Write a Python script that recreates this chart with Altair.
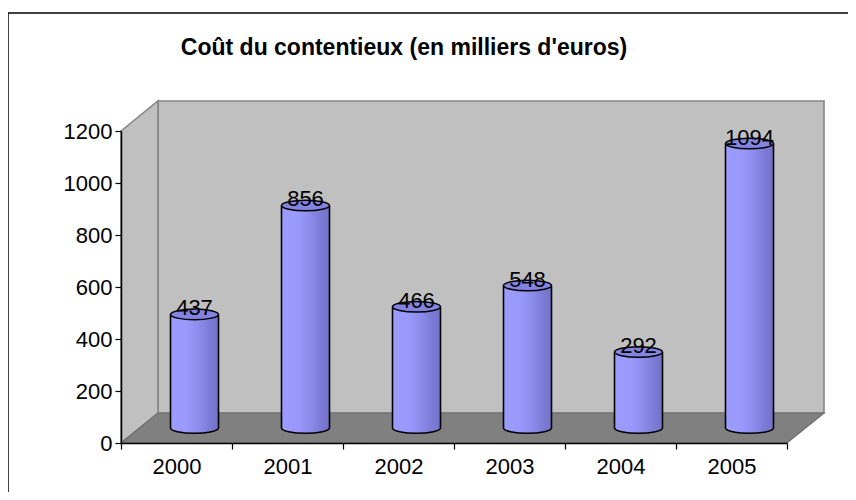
import altair as alt
import pandas as pd

# ---- data ----
years = ["2000", "2001", "2002", "2003", "2004", "2005"]
values = [437, 856, 466, 548, 292, 1094]
y_ticks = [0, 200, 400, 600, 800, 1000, 1200]
title_text = ["Coût du contentieux (en milliers d'euros)"]

df = pd.DataFrame({"year": years, "value": values, "base": [0] * len(years)})

FONT = "Liberation Sans"
W, H = 666, 312
BAR_W = 48
XO, YO = 18, -15  # half depth offset of the pseudo-3D bars

one = alt.Data(values=[{"k": 1}])

grad = {
    "gradient": "linear", "x1": 0, "x2": 1, "y1": 0, "y2": 0,
    "stops": [
        {"offset": 0.0, "color": "#9C9CFF"},
        {"offset": 0.35, "color": "#9999FC"},
        {"offset": 0.6, "color": "#8B8BEA"},
        {"offset": 0.8, "color": "#7D7DD8"},
        {"offset": 1.0, "color": "#7272CA"},
    ],
}

x_enc = alt.X("year:N", sort=years,
              scale=alt.Scale(type="band", paddingInner=0, paddingOuter=0),
              axis=alt.Axis(title=None, labelAngle=0, tickBand="extent", tickSize=6,
                            labelFontSize=22, labelFont=FONT, labelColor="black",
                            domainColor="black", tickColor="black", labelPadding=7,
                            domainWidth=1.5, tickWidth=1.2, zindex=1))
y_scale = alt.Scale(domain=[0, 1200], nice=False, zero=True)
y_axis = alt.Axis(values=y_ticks, format="d", title=None, grid=False, tickSize=6,
                  labelFontSize=22, labelFont=FONT, labelColor="black",
                  domainColor="black", tickColor="black", labelPadding=3,
                  domainWidth=1.5, tickWidth=1.2, zindex=1)
y_enc = alt.Y("value:Q", scale=y_scale, axis=y_axis)
yb_enc = alt.Y("base:Q", scale=y_scale, axis=y_axis)


def poly(path, fill, stroke, sw=1.5):
    return alt.Chart(one).mark_point(
        shape=path, size=4, filled=True, fill=fill, stroke=stroke,
        strokeWidth=sw, opacity=1
    ).encode(x=alt.value(0), y=alt.value(0))


back_wall = poly("M 37 -30 L 703 -30 L 703 282 L 37 282 Z", "#C0C0C0", "#858585", 1.6)
left_wall = poly("M 0 0 L 37 -30 L 37 282 L 0 312 Z", "#C0C0C0", "#858585", 1.6)
floor = poly("M 0 312 L 37 282 L 703 282 L 666 312 Z", "#808080", "#6E6E6E", 1.2)

base = alt.Chart(df)

bars = base.mark_bar(size=BAR_W, xOffset=XO, yOffset=YO, y2Offset=YO, color=grad).encode(
    x=x_enc, y=y_enc, y2=alt.Y2("base:Q"))

bottom_fill = base.mark_point(
    shape="M -1 0 A 1 0.22 0 0 0 1 0 Z", size=BAR_W * BAR_W, filled=True,
    fill=grad, strokeWidth=0, opacity=1, xOffset=XO, yOffset=YO
).encode(x=x_enc, y=yb_enc)

bottom_edge = base.mark_point(
    shape="M -1 0 A 1 0.22 0 0 0 1 0", size=BAR_W * BAR_W, filled=False,
    stroke="black", strokeWidth=1.6, opacity=1, xOffset=XO, yOffset=YO
).encode(x=x_enc, y=yb_enc)

left_side = base.mark_rule(xOffset=XO - BAR_W / 2, yOffset=YO, y2Offset=YO,
                           color="black", strokeWidth=1.6).encode(
    x=x_enc, y=y_enc, y2=alt.Y2("base:Q"))
right_side = base.mark_rule(xOffset=XO + BAR_W / 2, yOffset=YO, y2Offset=YO,
                            color="black", strokeWidth=1.6).encode(
    x=x_enc, y=y_enc, y2=alt.Y2("base:Q"))

top_cap = base.mark_point(
    shape="M -1 0 A 1 0.22 0 1 1 1 0 A 1 0.22 0 1 1 -1 0 Z", size=BAR_W * BAR_W,
    filled=True, fill="#8383E2", stroke="black", strokeWidth=1.5, opacity=1,
    xOffset=XO, yOffset=YO
).encode(x=x_enc, y=y_enc)

labels = base.mark_text(
    xOffset=XO, yOffset=YO, baseline="alphabetic", dy=1, fontSize=22, font=FONT, color="black"
).encode(x=x_enc, y=y_enc, text="value:Q")

title = alt.Chart(pd.DataFrame({"t": title_text})).mark_text(
    fontSize=23, fontWeight="bold", font=FONT, color="black", align="center", baseline="alphabetic"
).encode(x=alt.value(283), y=alt.value(-76), text="t:N")

frame_left = alt.Chart(one).mark_rule(color="black", strokeWidth=1.5).encode(
    x=alt.value(-113), y=alt.value(-118), y2=alt.value(420))
frame_top = alt.Chart(one).mark_rule(color="black", strokeWidth=1.5).encode(
    x=alt.value(-113), x2=alt.value(760), y=alt.value(-118))

chart = alt.layer(
    back_wall, left_wall, floor,
    bars, bottom_fill, bottom_edge, left_side, right_side, top_cap, labels,
    title, frame_left, frame_top
).properties(
    width=W, height=H,
    autosize=alt.AutoSizeParams(type="none"),
    padding={"left": 113, "top": 123, "right": 61, "bottom": 49},
    background="white",
).configure_view(stroke=None)

chart.save("out.html", embed_options={"renderer": "svg", "actions": False})
